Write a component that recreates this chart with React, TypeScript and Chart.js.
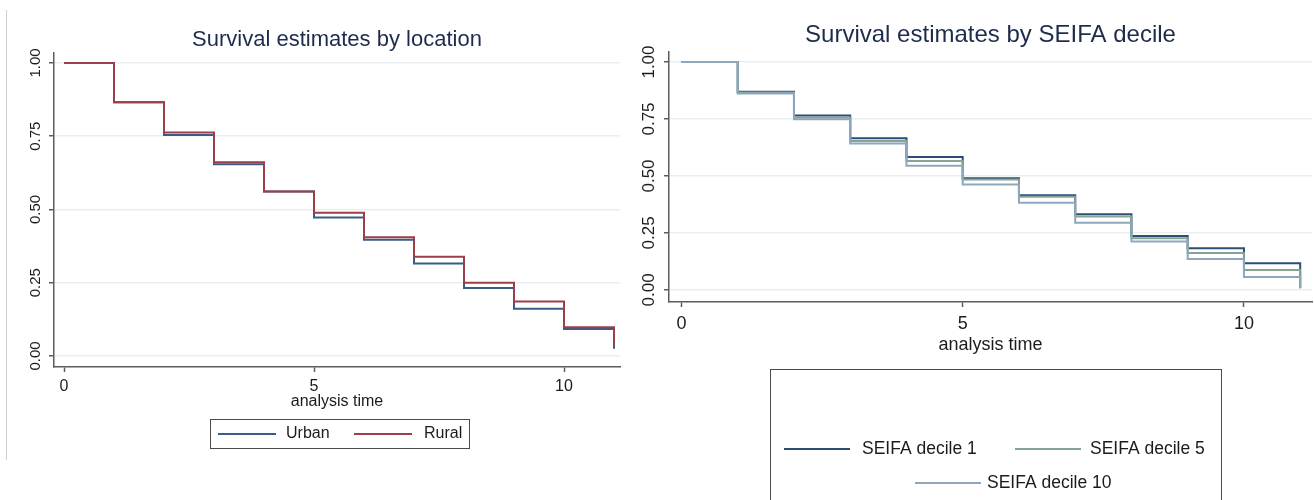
import React, { useEffect, useRef } from "react";
import { Chart, registerables } from "chart.js";

Chart.register(...registerables);

const FONT = '"Liberation Sans", Arial, Helvetica, sans-serif';
const AXIS_COLOR = "#5c5c5c";
const GRID_COLOR = "#e7eff2";
const TEXT_COLOR = "#1b1b1b";
const TITLE_COLOR = "#1e2c4c";

// Kaplan–Meier survival estimates, one value per analysis time
const times = [0, 1, 2, 3, 4, 5, 6, 7, 8, 9, 10, 11];
const urbanSurv = [1.0, 0.866, 0.754, 0.654, 0.561, 0.473, 0.397, 0.316, 0.232, 0.161, 0.092, 0.025];
const ruralSurv = [1.0, 0.866, 0.763, 0.661, 0.561, 0.489, 0.405, 0.339, 0.25, 0.186, 0.098, 0.035];
const decile1Surv = [1.0, 0.87, 0.765, 0.665, 0.583, 0.49, 0.415, 0.332, 0.237, 0.183, 0.117, 0.008];
const decile5Surv = [1.0, 0.866, 0.757, 0.654, 0.566, 0.484, 0.409, 0.322, 0.227, 0.162, 0.087, 0.008];
const decile10Surv = [1.0, 0.862, 0.749, 0.642, 0.545, 0.463, 0.382, 0.295, 0.213, 0.136, 0.057, 0.006];

const xTicks = [0, 5, 10];
const yTicks = [0, 0.25, 0.5, 0.75, 1];
const yTickLabels = ["0.00", "0.25", "0.50", "0.75", "1.00"];
const xAxisTitle = "analysis time";

const locationLabels = ["Urban", "Rural"];
const locationColors = ["#3a5c86", "#9d3e49"];
const seifaLabels = ["SEIFA decile 1", "SEIFA decile 5", "SEIFA decile 10"];
const seifaColors = ["#2b4d76", "#86a393", "#8ea6be"];

type Series = { label: string; values: number[]; color: string; order: number };

type LegendItem = { x: number; y: number; len: number; textX: number };

type Panel = {
  left: number;
  width: number;
  height: number;
  area: { left: number; right: number; top: number; bottom: number };
  xRange: [number, number];
  yRange: [number, number];
  title: string;
  titleSize: number;
  titleY: number;
  tickSize: number;
  xTickPad: number;
  yLabelX: number;
  yLabelSize: number;
  axisTitleY: number;
  axisTitleSize: number;
  legendBox: [number, number, number, number];
  legendItems: LegendItem[];
  legendSize: number;
  frame: boolean;
};

const locationPanel: Panel = {
  left: 0,
  width: 640,
  height: 470,
  area: { left: 54, right: 620, top: 53, bottom: 367 },
  xRange: [-0.2, 11.12],
  yRange: [-0.0375, 1.034],
  title: "Survival estimates by location",
  titleSize: 22,
  titleY: 40,
  tickSize: 16,
  xTickPad: 5,
  yLabelX: 36,
  yLabelSize: 15,
  axisTitleY: 402,
  axisTitleSize: 16,
  legendBox: [210.5, 419.5, 469.5, 448.5],
  legendItems: [
    { x: 218, y: 434, len: 58, textX: 286 },
    { x: 354, y: 434, len: 58, textX: 424 },
  ],
  legendSize: 16,
  frame: true,
};

const seifaPanel: Panel = {
  left: 640,
  width: 674,
  height: 500,
  area: { left: 29, right: 672, top: 52, bottom: 302 },
  xRange: [-0.222, 11.21],
  yRange: [-0.053, 1.044],
  title: "Survival estimates by SEIFA decile",
  titleSize: 24,
  titleY: 35,
  tickSize: 18,
  xTickPad: 6,
  yLabelX: 9,
  yLabelSize: 17,
  axisTitleY: 345,
  axisTitleSize: 18,
  legendBox: [130.5, 369.5, 581.5, 520],
  legendItems: [
    { x: 144, y: 449, len: 66, textX: 222 },
    { x: 375, y: 449, len: 66, textX: 450 },
    { x: 275, y: 483, len: 66, textX: 347 },
  ],
  legendSize: 17.5,
  frame: false,
};

const locationSeries: Series[] = [
  { label: locationLabels[0], values: urbanSurv, color: locationColors[0], order: 1 },
  { label: locationLabels[1], values: ruralSurv, color: locationColors[1], order: 0 },
];

const seifaSeries: Series[] = [
  { label: seifaLabels[0], values: decile1Surv, color: seifaColors[0], order: 2 },
  { label: seifaLabels[1], values: decile5Surv, color: seifaColors[1], order: 1 },
  { label: seifaLabels[2], values: decile10Surv, color: seifaColors[2], order: 0 },
];

// Draws the title, rotated y labels, axis title and boxed legend
function makeDecor(panel: Panel) {
  return {
    id: "panelDecor",
    afterDraw(chart: any) {
      const ctx: CanvasRenderingContext2D = chart.ctx;
      const area = chart.chartArea;
      const cx = (area.left + area.right) / 2;
      ctx.save();

      if (panel.frame) {
        ctx.strokeStyle = "#cfcfcf";
        ctx.lineWidth = 1;
        ctx.beginPath();
        ctx.moveTo(6.5, 10);
        ctx.lineTo(6.5, 460);
        ctx.stroke();
      }

      ctx.fillStyle = TITLE_COLOR;
      ctx.font = `${panel.titleSize}px ${FONT}`;
      ctx.textAlign = "center";
      ctx.textBaseline = "middle";
      ctx.fillText(panel.title, cx, panel.titleY);

      const yScale = chart.scales.y;
      ctx.fillStyle = TEXT_COLOR;
      ctx.font = `${panel.yLabelSize}px ${FONT}`;
      yTicks.forEach((v, i) => {
        const py = yScale.getPixelForValue(v);
        ctx.save();
        ctx.translate(panel.yLabelX, py);
        ctx.rotate(-Math.PI / 2);
        ctx.textAlign = "center";
        ctx.textBaseline = "middle";
        ctx.fillText(yTickLabels[i], 0, 0);
        ctx.restore();
      });

      ctx.font = `${panel.axisTitleSize}px ${FONT}`;
      ctx.textAlign = "center";
      ctx.textBaseline = "middle";
      ctx.fillText(xAxisTitle, cx, panel.axisTitleY);

      const [bx1, by1, bx2, by2] = panel.legendBox;
      ctx.strokeStyle = "#4a4a4a";
      ctx.lineWidth = 1;
      ctx.strokeRect(bx1, by1, bx2 - bx1, by2 - by1);

      ctx.font = `${panel.legendSize}px ${FONT}`;
      ctx.textAlign = "left";
      ctx.textBaseline = "middle";
      chart.data.datasets.forEach((ds: any, i: number) => {
        const item = panel.legendItems[i];
        ctx.strokeStyle = ds.borderColor;
        ctx.lineWidth = 2;
        ctx.beginPath();
        ctx.moveTo(item.x, item.y);
        ctx.lineTo(item.x + item.len, item.y);
        ctx.stroke();
        ctx.fillStyle = TEXT_COLOR;
        ctx.fillText(ds.label, item.textX, item.y);
      });

      ctx.restore();
    },
  };
}

function SurvivalPanel({ panel, series }: { panel: Panel; series: Series[] }) {
  const ref = useRef<HTMLCanvasElement>(null);

  useEffect(() => {
    if (!ref.current) return;
    const chart = new Chart(ref.current, {
      type: "line",
      data: {
        datasets: series.map((s) => ({
          label: s.label,
          data: times.map((t, i) => ({ x: t, y: s.values[i] })),
          borderColor: s.color,
          backgroundColor: s.color,
          borderWidth: 2,
          pointRadius: 0,
          stepped: "before" as const,
          fill: false,
          order: s.order,
        })),
      },
      options: {
        responsive: false,
        animation: false,
        events: [],
        layout: {
          padding: {
            left: 0,
            top: panel.area.top,
            right: panel.width - panel.area.right,
            bottom: 0,
          },
        },
        plugins: {
          legend: { display: false },
          title: { display: false },
          tooltip: { enabled: false },
        },
        scales: {
          x: {
            type: "linear",
            min: panel.xRange[0],
            max: panel.xRange[1],
            afterBuildTicks: (scale: any) => {
              scale.ticks = xTicks.map((v) => ({ value: v }));
            },
            afterFit: (scale: any) => {
              scale.height = panel.height - panel.area.bottom;
            },
            grid: {
              drawOnChartArea: false,
              drawTicks: true,
              tickLength: 5,
              tickColor: AXIS_COLOR,
              tickWidth: 1.5,
            },
            border: { display: true, color: AXIS_COLOR, width: 1.5 },
            ticks: {
              font: { family: FONT, size: panel.tickSize },
              color: TEXT_COLOR,
              padding: panel.xTickPad,
              maxRotation: 0,
              autoSkip: false,
              callback: (v: any) => String(v),
            },
          },
          y: {
            type: "linear",
            min: panel.yRange[0],
            max: panel.yRange[1],
            afterBuildTicks: (scale: any) => {
              scale.ticks = yTicks.map((v) => ({ value: v }));
            },
            afterFit: (scale: any) => {
              scale.width = panel.area.left;
            },
            grid: {
              color: GRID_COLOR,
              lineWidth: 1.5,
              drawTicks: true,
              tickLength: 5,
              tickColor: AXIS_COLOR,
              tickWidth: 1.5,
            },
            border: { display: true, color: AXIS_COLOR, width: 1.5 },
            ticks: { display: false },
          },
        },
      },
      plugins: [makeDecor(panel)],
    });
    return () => chart.destroy();
  }, [panel, series]);

  return (
    <canvas
      ref={ref}
      width={panel.width}
      height={panel.height}
      style={{ position: "absolute", left: panel.left, top: 0 }}
    />
  );
}

export default function App() {
  return (
    <div
      style={{
        position: "absolute",
        left: 0,
        top: 0,
        width: 1314,
        height: 500,
        background: "#ffffff",
        overflow: "hidden",
      }}
    >
      <SurvivalPanel panel={locationPanel} series={locationSeries} />
      <SurvivalPanel panel={seifaPanel} series={seifaSeries} />
    </div>
  );
}
